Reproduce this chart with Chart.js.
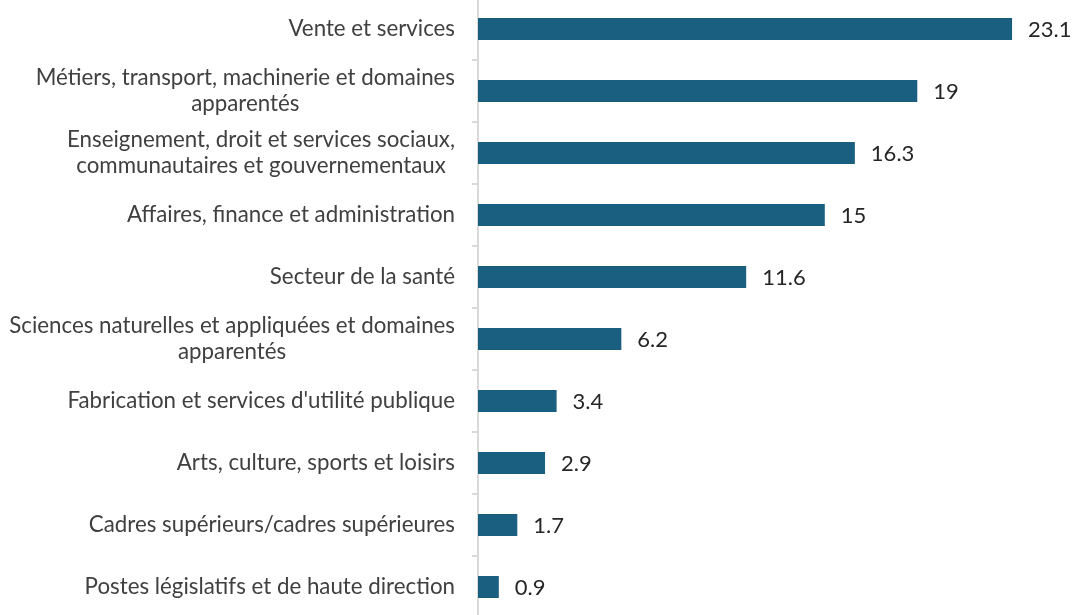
<!DOCTYPE html>
<html>
<head>
<meta charset="utf-8">
<script src="https://cdn.jsdelivr.net/npm/chart.js@4/dist/chart.umd.min.js"></script>
<style>
  html, body { margin: 0; padding: 0; background: #fff; overflow: hidden; }
  #wrap { position: absolute; left: 0; top: -2px; width: 1076px; height: 620px; }
</style>
</head>
<body>
<div id="wrap"><canvas id="c"></canvas></div>
<script>
const categories = [
  ["Vente et services"],
  ["Métiers, transport, machinerie et domaines", "apparentés"],
  ["Enseignement, droit et services sociaux,", "communautaires et gouvernementaux"],
  ["Affaires, finance et administration"],
  ["Secteur de la santé"],
  ["Sciences naturelles et appliquées et domaines", "apparentés"],
  ["Fabrication et services d'utilité publique"],
  ["Arts, culture, sports et loisirs"],
  ["Cadres supérieurs/cadres supérieures"],
  ["Postes législatifs et de haute direction"]
];
const values = [23.1, 19, 16.3, 15, 11.6, 6.2, 3.4, 2.9, 1.7, 0.9];
const valueLabels = ["23.1", "19", "16.3", "15", "11.6", "6.2", "3.4", "2.9", "1.7", "0.9"];

const LABEL_FONT = '22.3px Lato';
const LINE_H = 26.5;

const labelPlugin = {
  id: 'valueLabels',
  afterDatasetsDraw(chart) {
    const ctx = chart.ctx;
    const meta = chart.getDatasetMeta(0);
    ctx.save();
    ctx.font = '22px Lato';
    ctx.fillStyle = '#262626';
    ctx.textAlign = 'left';
    ctx.textBaseline = 'middle';
    meta.data.forEach((bar, i) => {
      ctx.fillText(valueLabels[i], bar.x + 16, bar.y + 1);
    });
    ctx.restore();
  }
};

// Category labels: block right-aligned to the axis, lines centred within the block
const categoryLabelPlugin = {
  id: 'categoryLabels',
  afterDraw(chart) {
    const ctx = chart.ctx;
    const yScale = chart.scales.y;
    const rightEdge = yScale.right - 23;
    ctx.save();
    ctx.font = LABEL_FONT;
    ctx.fillStyle = '#404040';
    ctx.textAlign = 'center';
    ctx.textBaseline = 'middle';
    categories.forEach((lines, i) => {
      const yc = yScale.getPixelForTick(i);
      const w = Math.max(...lines.map(l => ctx.measureText(l).width));
      const xc = rightEdge - w / 2;
      const y0 = yc - (lines.length - 1) * LINE_H / 2;
      lines.forEach((l, k) => ctx.fillText(l, xc, y0 + k * LINE_H));
    });
    ctx.restore();
  }
};

new Chart(document.getElementById('c'), {
  type: 'bar',
  data: {
    labels: categories.map(l => l.join(' ')),
    datasets: [{
      data: values,
      backgroundColor: '#1a5e80',
      borderWidth: 0,
      barPercentage: 0.355,
      categoryPercentage: 1
    }]
  },
  options: {
    indexAxis: 'y',
    responsive: true,
    maintainAspectRatio: false,
    animation: false,
    layout: { padding: { left: 0, right: 20, top: 0, bottom: 0 } },
    plugins: { legend: { display: false }, tooltip: { enabled: false } },
    scales: {
      x: { display: false, min: 0, max: 25 },
      y: {
        afterFit(scale) {
          scale.width = 478;
          scale.paddingTop = 0;
          scale.paddingBottom = 0;
        },
        border: { display: true, color: '#d9d9d9', width: 2 },
        grid: { display: true, drawOnChartArea: false, drawTicks: true, tickLength: 6, color: '#d9d9d9', lineWidth: 2, offset: true },
        ticks: { display: false }
      }
    }
  },
  plugins: [labelPlugin, categoryLabelPlugin]
});
</script>
</body>
</html>
